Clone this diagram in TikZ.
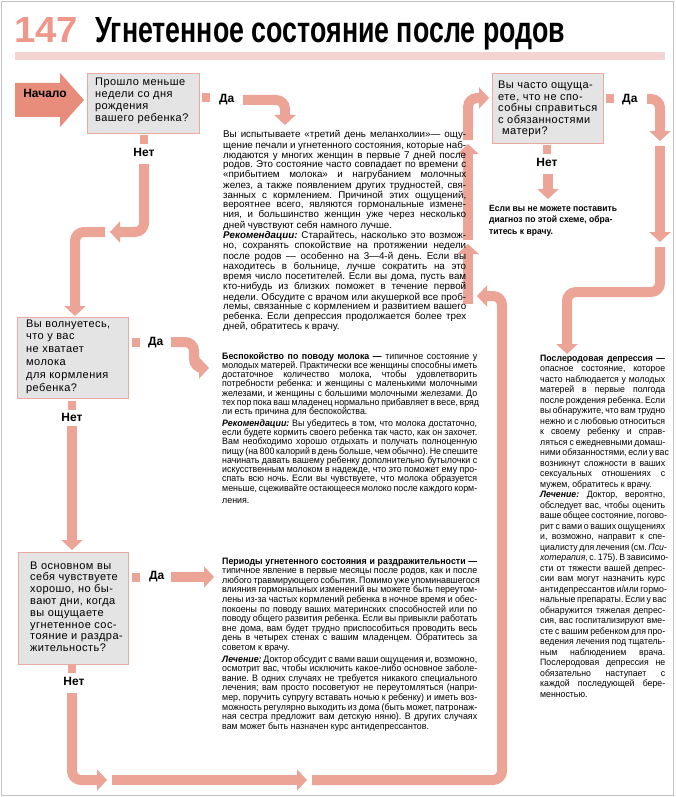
\documentclass[tikz,border=0pt]{standalone}
\usepackage{fontspec}
\setmainfont{Liberation Sans}
\newfontfamily\bodyf{Liberation Sans}
\newfontfamily\bodyn{Liberation Sans}[FakeStretch=0.95]
\newfontfamily\qf{Liberation Sans}[LetterSpace=4]
\usetikzlibrary{arrows.meta}
\definecolor{pipe}{RGB}{236,164,150}
\definecolor{startc}{RGB}{232,140,124}
\definecolor{boxfill}{RGB}{228,228,228}
\definecolor{boxline}{RGB}{236,170,160}
\definecolor{numc}{RGB}{240,150,138}
\definecolor{barc}{RGB}{242,212,208}
\definecolor{framec}{RGB}{195,195,195}
\frenchspacing
\newcommand\jl[1]{\hbox to\hsize{#1}}
\newcommand\lastl[1]{\hbox{#1}}
\newcommand\bitx[1]{{\bfseries\itshape #1}}
\newcommand\txtblock[5]{\vtop{\hsize=#1\relax#4\fontsize{#2}{#3}\selectfont #5}}
\newcommand\qtext[2]{\vtop{\qf\fontsize{11}{#1}\selectfont #2}}
\begin{document}
\begin{tikzpicture}[x=1pt,y=-1pt,
  pipe/.style={draw=pipe, line width=10pt, rounded corners=9pt},
  parr/.style={pipe, -{Triangle[width=21pt,length=10pt]}},
  qbox/.style={draw=boxline, fill=boxfill, line width=1pt, anchor=north west, inner sep=0pt},
  lab/.style={font=\fontsize{12}{12}\selectfont\bfseries, inner sep=0pt},
  sq/.style={fill=pipe, minimum width=8pt, minimum height=9pt, inner sep=0pt},
  body/.style={anchor=base west, inner sep=0pt}]
\useasboundingbox (0,0) rectangle (675,797);
\draw[framec, line width=1pt] (1.5,1.5) rectangle (673.5,795.5);
% title
\node[anchor=base west, inner sep=0pt, text=numc] (num) at (14,43)
  {\resizebox{64pt}{25pt}{\bfseries 147}};
\node[anchor=base west, inner sep=0pt] (title) at (95,43)
  {\resizebox{470pt}{25pt}{\bfseries Угнетенное состояние после родов}};
\fill[barc] (15,52) rectangle (665,60);
% start
\fill[startc] (15,83) -- (60,83) -- (60,73) -- (84,100) -- (60,127) -- (60,117) -- (15,117) -- cycle;
\node[lab, anchor=center] (start) at (45,93) {Начало};
% question boxes
\node[qbox, minimum width=112pt, minimum height=60pt] (q1) at (87,73) {};
\node[body] (q1t) at (95,86) {\qtext{11.7}{\hbox{Прошло меньше}\hbox{недели со дня}\hbox{рождения}\hbox{вашего ребенка?}}};
\node[qbox, minimum width=111pt, minimum height=81pt] (q2) at (17,317) {};
\node[body] (q2t) at (26,327) {\qtext{12.8}{\hbox{Вы волнуетесь,}\hbox{что у вас}\hbox{не хватает}\hbox{молока}\hbox{для кормления}\hbox{ребенка?}}};
\node[qbox, minimum width=110pt, minimum height=112pt] (q3) at (18,552) {};
\node[body] (q3t) at (30,569) {\qtext{11.8}{\hbox{В основном вы}\hbox{себя чувствуете}\hbox{хорошо, но бы-}\hbox{вают дни, когда}\hbox{вы ощущаете}\hbox{угнетенное сос-}\hbox{тояние и раздра-}\hbox{жительность?}}};
\node[qbox, minimum width=111pt, minimum height=70pt] (q4) at (492,73) {};
\node[body] (q4t) at (498,89) {\qtext{11.5}{\hbox{Вы часто ощуща-}\hbox{ете, что не спо-}\hbox{собны справиться}\hbox{с обязанностями}\hbox{\hspace{4pt}матери?}}};
% yes / no labels
\node[sq] (s1y) at (206,98) {};
\node[lab, anchor=west] (y1) at (219,100) {Да};
\node[sq] (s1n) at (144,139) {};
\node[lab] (n1) at (144,152) {Нет};
\node[sq] (s2y) at (136,342) {};
\node[lab, anchor=west] (y2) at (148,343) {Да};
\node[sq] (s2n) at (72,405) {};
\node[lab] (n2) at (72,417) {Нет};
\node[sq] (s3y) at (136,577) {};
\node[lab, anchor=west] (y3) at (149,577) {Да};
\node[sq] (s3n) at (72,668) {};
\node[lab] (n3) at (74,681) {Нет};
\node[sq] (s4y) at (610,99) {};
\node[lab, anchor=west] (y4) at (622,100) {Да};
\node[sq] (s4n) at (547,149) {};
\node[lab] (n4) at (547,162) {Нет};
% pipe coordinates
\coordinate (a1) at (243,100); \coordinate (a2) at (285,100); \coordinate (a3) at (285,125);
\coordinate (b1) at (144,164); \coordinate (b2) at (144,232); \coordinate (b3) at (110,232);
\coordinate (c1) at (105,232); \coordinate (c2) at (75,232); \coordinate (c3) at (75,316);
\coordinate (d1) at (171,342); \coordinate (d2) at (194,342); \coordinate (d3) at (194,368); \coordinate (d4) at (209,368);
\coordinate (e1) at (72,426); \coordinate (e2) at (72,550);
\coordinate (f1) at (171,577); \coordinate (f2) at (214,577);
\coordinate (g1) at (72,693); \coordinate (g2) at (72,780); \coordinate (g3) at (107,780);
\coordinate (h1) at (112,780); \coordinate (h2) at (307,780);
\coordinate (i1) at (312,780); \coordinate (i2) at (502,780); \coordinate (i3) at (502,296); \coordinate (i4) at (477,296);
\coordinate (j1) at (468,304); \coordinate (j2) at (468,244);
\coordinate (k1) at (468,240); \coordinate (k2) at (468,144);
\coordinate (l1) at (468,140); \coordinate (l2) at (468,98); \coordinate (l3) at (489,98);
\coordinate (m1) at (647,99); \coordinate (m2) at (660,99); \coordinate (m3) at (660,141);
\coordinate (o1) at (660,146); \coordinate (o2) at (660,242);
\coordinate (p1) at (660,247); \coordinate (p2) at (660,292); \coordinate (p3) at (567,292); \coordinate (p4) at (567,354);
\coordinate (r1) at (548,174); \coordinate (r2) at (548,199);
\draw[parr] (a1) -- (a2) -- (a3);
\draw[parr] (b1) -- (b2) -- (b3);
\draw[parr] (c1) -- (c2) -- (c3);
\draw[parr] (d1) -- (d2) -- (d3) -- (d4);
\draw[parr] (e1) -- (e2);
\draw[parr] (f1) -- (f2);
\draw[parr] (g1) -- (g2) -- (g3);
\draw[parr] (h1) -- (h2);
\draw[parr] (i1) -- (i2) -- (i3) -- (i4);
\draw[parr] (j1) -- (j2);
\draw[parr] (k1) -- (k2);
\draw[parr] (l1) -- (l2) -- (l3);
\draw[parr] (m1) -- (m2) -- (m3);
\draw[parr] (o1) -- (o2);
\draw[parr] (p1) -- (p2) -- (p3) -- (p4);
\draw[parr] (r1) -- (r2);
% text blocks
\node[body] (t1) at (223,138) {\txtblock{243pt}{9.8}{9.1}{\bodyf}{%
\jl{Вы испытываете «третий день меланхолии»— ощу-}
\jl{щение печали и угнетенного состояния, которые наб-}
\jl{людаются у многих женщин в первые 7 дней после}
\jl{родов. Это состояние часто совпадает по времени с}
\jl{«прибытием молока» и нагрубанием молочных}
\jl{желез, а также появлением других трудностей, свя-}
\jl{занных с кормлением. Причиной этих ощущений,}
\jl{вероятнее всего, являются гормональные измене-}
\jl{ния, и большинство женщин уже через несколько}
\lastl{дней чувствуют себя намного лучше.}
\jl{\bitx{Рекомендации:} Старайтесь, насколько это возмож-}
\jl{но, сохранять спокойствие на протяжении недели}
\jl{после родов — особенно на 3—4-й день. Если вы}
\jl{находитесь в больнице, лучше сократить на это}
\jl{время число посетителей. Если вы дома, пусть вам}
\jl{кто-нибудь из близких поможет в течение первой}
\jl{недели. Обсудите с врачом или акушеркой все проб-}
\jl{лемы, связанные с кормлением и развитием вашего}
\jl{ребенка. Если депрессия продолжается более трех}
\lastl{дней, обратитесь к врачу.}}};
\node[body] (t2) at (222,359) {\txtblock{255pt}{9.3}{9.3}{\bodyn}{%
\jl{{\bfseries Беспокойство по поводу молока —} типичное состояние у}
\jl{молодых матерей. Практически все женщины способны иметь}
\jl{достаточное количество молока, чтобы удовлетворить}
\jl{потребности ребенка: и женщины с маленькими молочными}
\jl{железами, и женщины с большими молочными железами. До}
\jl{тех пор пока ваш младенец нормально прибавляет в весе, вряд}
\lastl{ли есть причина для беспокойства.}
\vskip2pt
\jl{\bitx{Рекомендации:} Вы убедитесь в том, что молока достаточно,}
\jl{если будете кормить своего ребенка так часто, как он захочет.}
\jl{Вам необходимо хорошо отдыхать и получать полноценную}
\jl{пищу (на 800 калорий в день больше, чем обычно). Не спешите}
\jl{начинать давать вашему ребенку дополнительно бутылочки с}
\jl{искусственным молоком в надежде, что это поможет ему про-}
\jl{спать всю ночь. Если вы чувствуете, что молока образуется}
\jl{меньше, сцеживайте остающееся молоко после каждого корм-}
\vskip3pt
\lastl{ления.}}};
\node[body] (t3) at (222,564) {\txtblock{255pt}{9.3}{9.6}{\bodyn}{%
\jl{\bfseries Периоды угнетенного состояния и раздражительности —}
\jl{типичное явление в первые месяцы после родов, как и после}
\jl{любого травмирующего события. Помимо уже упоминавшегося}
\jl{влияния гормональных изменений вы можете быть переутом-}
\jl{лены из-за частых кормлений ребенка в ночное время и обес-}
\jl{покоены по поводу ваших материнских способностей или по}
\jl{поводу общего развития ребенка. Если вы привыкли работать}
\jl{вне дома, вам будет трудно приспособиться проводить весь}
\jl{день в четырех стенах с вашим младенцем. Обратитесь за}
\lastl{советом к врачу.}
\vskip2pt
\jl{\bitx{Лечение:} Доктор обсудит с вами ваши ощущения и, возможно,}
\jl{осмотрит вас, чтобы исключить какое-либо основное заболе-}
\jl{вание. В одних случаях не требуется никакого специального}
\jl{лечения; вам просто посоветуют не переутомляться (напри-}
\jl{мер, поручить супругу вставать ночью к ребенку) и иметь воз-}
\jl{можность регулярно выходить из дома (быть может, патронаж-}
\jl{ная сестра предложит вам детскую няню). В других случаях}
\lastl{вам может быть назначен курс антидепрессантов.}}};
\node[body] (t4) at (540,361) {\txtblock{125pt}{9.2}{10.5}{\bodyn}{%
\jl{\bfseries Послеродовая депрессия —}
\jl{опасное состояние, которое}
\jl{часто наблюдается у молодых}
\jl{матерей в первые полгода}
\jl{после рождения ребенка. Если}
\jl{вы обнаружите, что вам трудно}
\jl{нежно и с любовью относиться}
\jl{к своему ребенку и справ-}
\jl{ляться с ежедневными домаш-}
\jl{ними обязанностями, если у вас}
\jl{возникнут сложности в ваших}
\jl{сексуальных отношениях с}
\lastl{мужем, обратитесь к врачу.}
\jl{\bitx{Лечение:} Доктор, вероятно,}
\jl{обследует вас, чтобы оценить}
\jl{ваше общее состояние, погово-}
\jl{рит с вами о ваших ощущениях}
\jl{и, возможно, направит к спе-}
\jl{циалисту для лечения (см. \textit{Пси-}}
\jl{\textit{хотерапия}, с. 175). В зависимо-}
\jl{сти от тяжести вашей депрес-}
\jl{сии вам могут назначить курс}
\jl{антидепрессантов и/или гормо-}
\jl{нальные препараты. Если у вас}
\jl{обнаружится тяжелая депрес-}
\jl{сия, вас госпитализируют вме-}
\jl{сте с вашим ребенком для про-}
\jl{ведения лечения под тщатель-}
\jl{ным наблюдением врача.}
\jl{Послеродовая депрессия не}
\jl{обязательно наступает с}
\jl{каждой последующей бере-}
\lastl{менностью.}}};
\node[body] (t5) at (489,211) {\vtop{\bodyn\bfseries\fontsize{9}{11.7}\selectfont
\hbox{Если вы не можете поставить}\hbox{диагноз по этой схеме, обра-}\hbox{титесь к врачу.}}};
\end{tikzpicture}
\end{document}
